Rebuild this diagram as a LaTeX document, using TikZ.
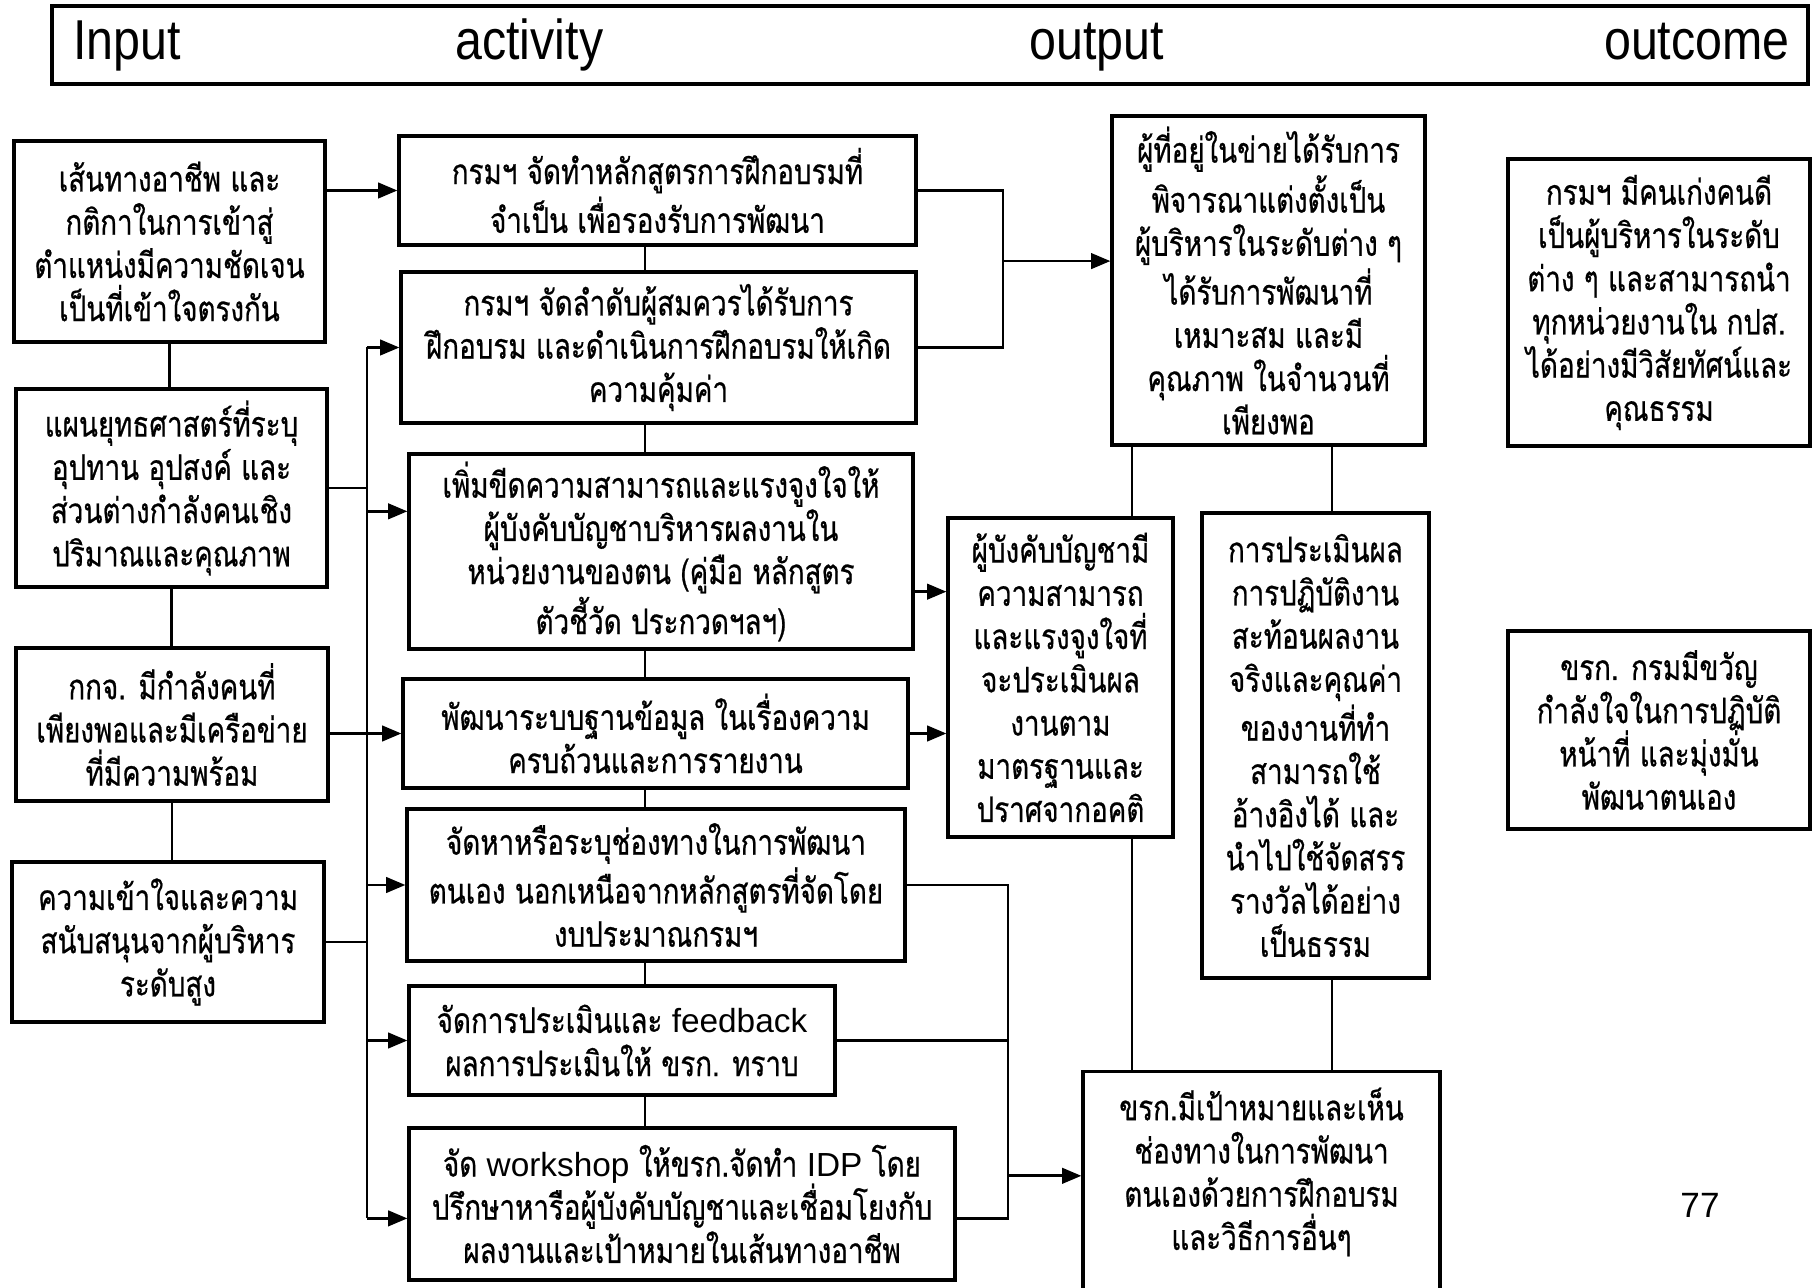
\documentclass[tikz,border=0pt]{standalone}
\usepackage{fontspec}
\setmainfont{Liberation Sans}
\newfontfamily\thaifont[Script=Thai,FakeStretch=0.79,FakeBold=0.6]{Loma}
\newfontfamily\headfont[FakeStretch=0.86]{Liberation Sans}
\newfontfamily\latinfont{Liberation Sans}
\newcommand{\lat}[1]{{\latinfont\fontsize{9.5}{12.3}\selectfont #1}}
\usetikzlibrary{positioning,arrows.meta}

\tikzset{
  box/.style={draw, line width=0.9pt, align=center, inner sep=2pt,
    font=\thaifont\fontsize{10}{12.3}\selectfont},
  thaitext/.style={align=center, inner sep=2pt,
    font=\thaifont\fontsize{10}{12.3}\selectfont},
  link/.style={line width=0.8pt},
  thin link/.style={line width=0.6pt},
  arr/.style={link, -{Triangle[length=5.5pt,width=4.4pt]}},
  headtext/.style={font=\headfont\fontsize{16}{18}\selectfont},
}

\begin{document}
\begin{tikzpicture}
\useasboundingbox (0,0) rectangle (18.12,-12.88);

%% header
\node[draw, line width=1.2pt, minimum width=17.56cm, minimum height=0.78cm] (hdr) at (9.30,-0.45) {};
\node[headtext, anchor=base west] (hInput) at (0.61,-0.60) {Input};
\node[headtext, anchor=base west] (hActivity) at (4.43,-0.60) {activity};
\node[headtext, anchor=base west] (hOutput) at (10.17,-0.60) {output};
\node[headtext, anchor=base east] (hOutcome) at (18.02,-0.60) {outcome};

%% input
\node[box, minimum width=3.11cm, minimum height=2.01cm] (in1) at (1.695,-2.415)
  {เส้นทางอาชีพ และ\\กติกาในการเข้าสู่\\ตำแหน่งมีความชัดเจน\\เป็นที่เข้าใจตรงกัน};
\node[box, minimum width=3.11cm, minimum height=1.98cm] (in2) at (1.715,-4.88)
  {แผนยุทธศาสตร์ที่ระบุ\\อุปทาน อุปสงค์ และ\\ส่วนต่างกำลังคนเชิง\\ปริมาณและคุณภาพ};
\node[box, minimum width=3.12cm, minimum height=1.53cm] (in3) at (1.72,-7.245)
  {กกจ. มีกำลังคนที่\\เพียงพอและมีเครือข่าย\\ที่มีความพร้อม};
\node[box, minimum width=3.12cm, minimum height=1.60cm] (in4) at (1.68,-9.42)
  {ความเข้าใจและความ\\สนับสนุนจากผู้บริหาร\\ระดับสูง};

%% activity
\node[box, minimum width=5.17cm, minimum height=1.09cm] (actA) at (6.575,-1.905)
  {กรมฯ จัดทำหลักสูตรการฝึกอบรมที่\\จำเป็น เพื่อรองรับการพัฒนา};
\node[box, minimum width=5.15cm, minimum height=1.51cm] (actB) at (6.585,-3.475)
  {กรมฯ จัดลำดับผู้สมควรได้รับการ\\ฝึกอบรม และดำเนินการฝึกอบรมให้เกิด\\ความคุ้มค่า};
\node[box, minimum width=5.04cm, minimum height=1.95cm] (actC) at (6.61,-5.515)
  {เพิ่มขีดความสามารถและแรงจูงใจให้\\ผู้บังคับบัญชาบริหารผลงานใน\\หน่วยงานของตน (คู่มือ หลักสูตร\\ตัวชี้วัด ประกวดฯลฯ)};
\node[box, minimum width=5.05cm, minimum height=1.09cm] (actD) at (6.555,-7.335)
  {พัฒนาระบบฐานข้อมูล ในเรื่องความ\\ครบถ้วนและการรายงาน};
\node[box, minimum width=4.98cm, minimum height=1.52cm] (actE) at (6.56,-8.85)
  {จัดหาหรือระบุช่องทางในการพัฒนา\\ตนเอง นอกเหนือจากหลักสูตรที่จัดโดย\\งบประมาณกรมฯ};
\node[box, minimum width=4.26cm, minimum height=1.09cm] (actF) at (6.22,-10.405)
  {จัดการประเมินและ \lat{feedback}\\ผลการประเมินให้ ขรก. ทราบ};
\node[box, minimum width=5.46cm, minimum height=1.52cm] (actG) at (6.82,-12.04)
  {จัด \lat{workshop} ให้ขรก.จัดทำ \lat{IDP} โดย\\ปรึกษาหารือผู้บังคับบัญชาและเชื่อมโยงกับ\\ผลงานและเป้าหมายในเส้นทางอาชีพ};

%% output
\node[box, minimum width=3.13cm, minimum height=3.29cm] (o1) at (12.685,-2.805)
  {ผู้ที่อยู่ในข่ายได้รับการ\\พิจารณาแต่งตั้งเป็น\\ผู้บริหารในระดับต่าง ๆ\\ได้รับการพัฒนาที่\\เหมาะสม และมี\\คุณภาพ ในจำนวนที่\\เพียงพอ};
\node[box, minimum width=2.25cm, minimum height=3.19cm] (o2) at (10.605,-6.775)
  {ผู้บังคับบัญชามี\\ความสามารถ\\และแรงจูงใจที่\\จะประเมินผล\\งานตาม\\มาตรฐานและ\\ปราศจากอคติ};
\node[box, minimum width=2.27cm, minimum height=4.65cm] (o3) at (13.155,-7.455)
  {การประเมินผล\\การปฏิบัติงาน\\สะท้อนผลงาน\\จริงและคุณค่า\\ของงานที่ทำ\\สามารถใช้\\อ้างอิงได้ และ\\นำไปใช้จัดสรร\\รางวัลได้อย่าง\\เป็นธรรม};
\node[box, minimum width=3.57cm, minimum height=2.4cm, anchor=north] (o4) at (12.615,-10.70) {};
\node[thaitext, below=0.1cm of o4.north] (o4t)
  {ขรก.มีเป้าหมายและเห็น\\ช่องทางในการพัฒนา\\ตนเองด้วยการฝึกอบรม\\และวิธีการอื่นๆ};

%% outcome
\node[box, minimum width=3.02cm, minimum height=2.87cm] (oc1) at (16.59,-3.025)
  {กรมฯ มีคนเก่งคนดี\\เป็นผู้บริหารในระดับ\\ต่าง ๆ และสามารถนำ\\ทุกหน่วยงานใน กปส.\\ได้อย่างมีวิสัยทัศน์และ\\คุณธรรม};
\node[box, minimum width=3.02cm, minimum height=1.98cm] (oc2) at (16.59,-7.30)
  {ขรก. กรมมีขวัญ\\กำลังใจในการปฏิบัติ\\หน้าที่ และมุ่งมั่น\\พัฒนาตนเอง};

\node[font=\fontsize{10}{12}\selectfont] (pnum) at (17.0,-12.05) {77};

%% guide lines
\coordinate (bus) at (3.67,0);
\coordinate (acol) at (6.45,0);
\coordinate (jab) at (10.03,0);
\coordinate (jeg) at (10.08,0);
\coordinate (ocl) at (11.32,0);
\coordinate (ocr) at (13.32,0);

%% input links
\draw[link] (in1.south) -- (in1.south |- in2.north);
\draw[link] (in2.south) -- (in2.south |- in3.north);
\draw[link] (in3.south) -- (in3.south |- in4.north);
\draw[arr] (actA.west -| in1.east) -- (actA.west);
\draw[link] (in2.east) -- (in2.east -| bus);
\draw[arr] (actD.west -| in3.east) -- (actD.west);
\draw[link] (in4.east) -- (in4.east -| bus);

%% bus to activities
\draw[link] (bus |- actB.west) -- (bus |- actG.183);
\draw[arr] (bus |- actB.west) -- (actB.west);
\draw[arr] (bus |- actC.171) -- (actC.171);
\draw[arr] (bus |- actE.west) -- (actE.west);
\draw[arr] (bus |- actF.west) -- (actF.west);
\draw[arr] (bus |- actG.183) -- (actG.183);

%% activity chain
\foreach \a/\b in {actA/actB, actB/actC, actC/actD, actD/actE, actE/actF, actF/actG}
  \draw[link] (\a.south -| acol) -- (\b.north -| acol);

%% activity to output
\draw[link] (actA.east) -- (actA.east -| jab) -- (actB.east -| jab) -- (actB.east);
\draw[arr] (jab |- o1.173) -- (o1.173);
\draw[arr] (actC.351) -- (actC.351 -| o2.west);
\draw[arr] (actD.east) -- (actD.east -| o2.west);
\draw[link] (actE.east) -- (actE.east -| jeg) -- (actG.357 -| jeg) -- (actG.357);
\draw[link] (actF.east) -- (actF.east -| jeg);
\draw[arr] (jeg |- o4.175) -- (o4.175);

%% output links
\draw[thin link] (o1.south -| ocl) -- (o2.north -| ocl);
\draw[thin link] (o2.south -| ocl) -- (o4.north -| ocl);
\draw[thin link] (o1.south -| ocr) -- (o3.north -| ocr);
\draw[thin link] (o3.south -| ocr) -- (o4.north -| ocr);

\end{tikzpicture}
\end{document}
